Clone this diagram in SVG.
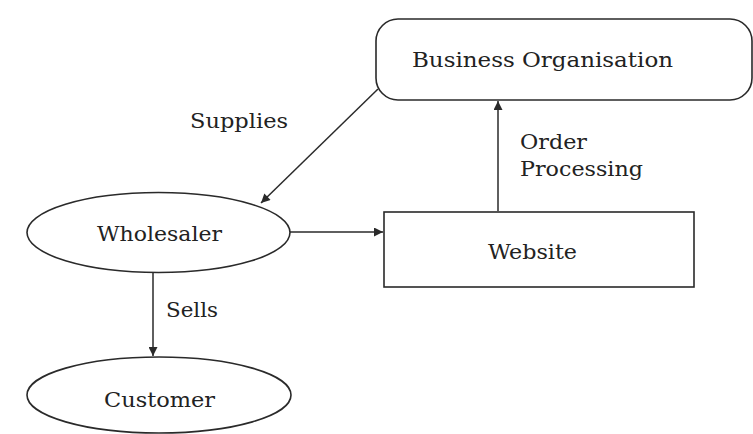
<svg xmlns="http://www.w3.org/2000/svg" width="753" height="434" viewBox="0 0 753 434">
<style>
.shape{fill:#fff;stroke:#2a2a2a;stroke-width:1.6}
.lbl{font-family:"DejaVu Serif","Liberation Serif",serif;font-size:21px;fill:#222}
.conn{stroke:#2a2a2a;stroke-width:1.5;fill:none}
</style>
<defs>
<marker id="arr" viewBox="0 0 10 10" refX="10" refY="5" markerWidth="10" markerHeight="9" markerUnits="userSpaceOnUse" orient="auto">
<path d="M0,0 L10,5 L0,10 z" fill="#2a2a2a"/>
</marker>
</defs>
<rect width="753" height="434" fill="#fff"/>
<g id="connectors">
<line class="conn" x1="378" y1="89" x2="261" y2="203" marker-end="url(#arr)"/>
<text class="lbl" x="190" y="128" textLength="98" lengthAdjust="spacingAndGlyphs">Supplies</text>
<line class="conn" x1="498" y1="211" x2="498" y2="101" marker-end="url(#arr)"/>
<text class="lbl" x="520" y="149" textLength="67" lengthAdjust="spacingAndGlyphs">Order</text>
<text class="lbl" x="520" y="176" textLength="123" lengthAdjust="spacingAndGlyphs">Processing</text>
<line class="conn" x1="290" y1="232" x2="383" y2="232" marker-end="url(#arr)"/>
<line class="conn" x1="153" y1="272" x2="153" y2="356" marker-end="url(#arr)"/>
<text class="lbl" x="166" y="317" textLength="52" lengthAdjust="spacingAndGlyphs">Sells</text>
</g>
<g id="business-organisation">
<rect class="shape" x="376" y="19" width="376" height="81" rx="22" ry="22"/>
<text class="lbl" x="412" y="67" textLength="261" lengthAdjust="spacingAndGlyphs">Business Organisation</text>
</g>
<g id="website">
<rect class="shape" x="384" y="212" width="310" height="75"/>
<text class="lbl" x="488" y="259" textLength="89" lengthAdjust="spacingAndGlyphs">Website</text>
</g>
<g id="wholesaler">
<ellipse class="shape" cx="158.5" cy="232.5" rx="131.5" ry="40"/>
<text class="lbl" x="97" y="241" textLength="125" lengthAdjust="spacingAndGlyphs">Wholesaler</text>
</g>
<g id="customer">
<ellipse class="shape" cx="159" cy="395" rx="132" ry="38"/>
<text class="lbl" x="104" y="407" textLength="111" lengthAdjust="spacingAndGlyphs">Customer</text>
</g>
</svg>
